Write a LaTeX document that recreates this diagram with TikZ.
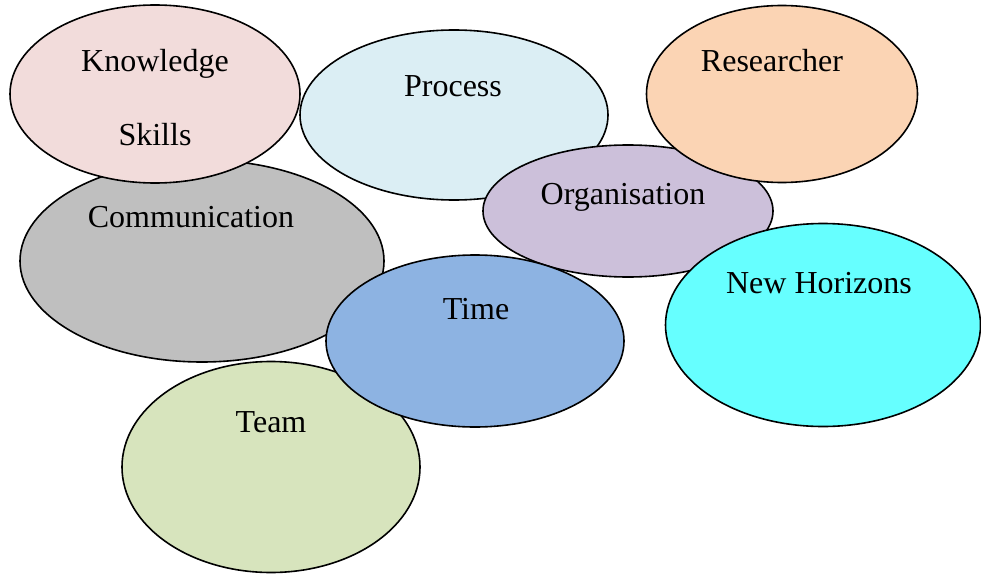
\documentclass[tikz,border=0pt]{standalone}
\usepackage{fontspec}
\setmainfont{Liberation Serif}
\usetikzlibrary{shapes.geometric}
\definecolor{cKnow}{HTML}{F2DCDB}
\definecolor{cProc}{HTML}{DBEEF4}
\definecolor{cRes}{HTML}{FBD4B4}
\definecolor{cComm}{HTML}{BFBFBF}
\definecolor{cOrg}{HTML}{CCC0DA}
\definecolor{cNew}{HTML}{66FFFF}
\definecolor{cTime}{HTML}{8DB3E2}
\definecolor{cTeam}{HTML}{D7E4BD}
\tikzset{
  blob/.style={ellipse, draw=black, line width=1.6pt, inner sep=0pt, outer sep=0pt},
  lbl/.style={anchor=base, font=\fontsize{32}{38}\selectfont, inner sep=0pt}
}
\begin{document}
\begin{tikzpicture}[x=1pt,y=-1pt]
\useasboundingbox (0,0) rectangle (981,575);
\fill[white] (0,0) rectangle (981,575);
\node[blob, fill=cProc, minimum width=308pt, minimum height=170pt] (proc) at (454,115) {};
\node[blob, fill=cOrg, minimum width=290pt, minimum height=132pt] (org) at (628,211) {};
\node[blob, fill=cRes, minimum width=271pt, minimum height=177pt] (res) at (782,94) {};
\node[blob, fill=cNew, minimum width=315pt, minimum height=203pt] (new) at (823,325) {};
\node[blob, fill=cComm, minimum width=364pt, minimum height=202pt] (comm) at (202,261) {};
\node[blob, fill=cKnow, minimum width=290pt, minimum height=178pt] (know) at (155,94) {};
\node[blob, fill=cTeam, minimum width=298pt, minimum height=211pt] (team) at (271,467) {};
\node[blob, fill=cTime, minimum width=298pt, minimum height=172pt] (time) at (475,341) {};
\node[lbl] (tknow) at (155,72) {Knowledge};
\node[lbl] (tskill) at (155,145) {Skills};
\node[lbl] (tproc) at (453,96) {Process};
\node[lbl] (tres) at (772,72) {Researcher};
\node[lbl] (tcomm) at (191,227) {Communication};
\node[lbl] (torg) at (623,204) {Organisation};
\node[lbl] (tnew) at (819,293) {New Horizons};
\node[lbl] (ttime) at (476,319) {Time};
\node[lbl] (tteam) at (271,432) {Team};
\end{tikzpicture}
\end{document}
